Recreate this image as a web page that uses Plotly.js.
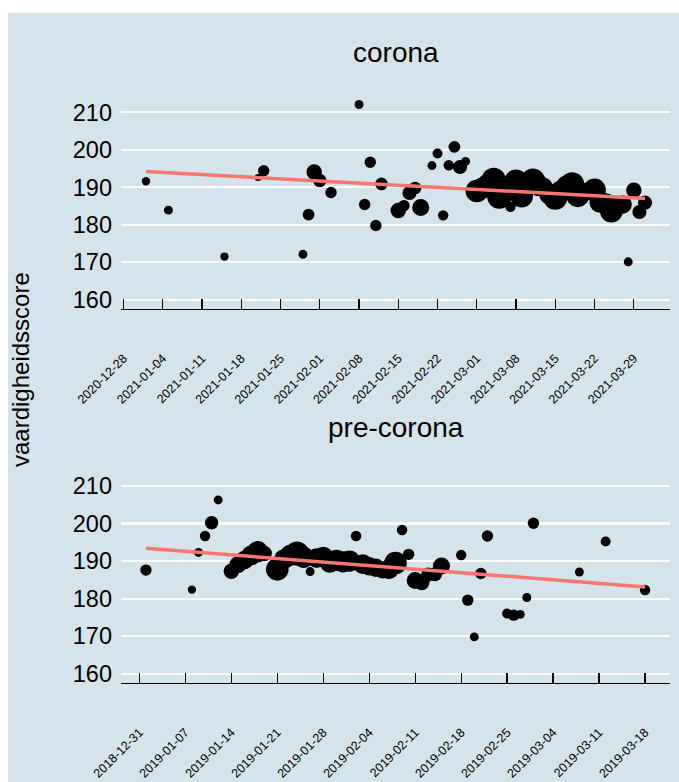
<!DOCTYPE html>
<html>
<head>
<meta charset="utf-8">
<script src="https://cdn.plot.ly/plotly-3.0.1.min.js"></script>
<style>
  html, body { margin: 0; padding: 0; background: #ffffff; }
  #chart { position: absolute; left: 8px; top: 13px; width: 671px; height: 769px; }
</style>
</head>
<body>
<div id="chart"></div>
<script>
// ---- corona (2021) ----
const coronaDates = ['2021-01-01','2021-01-05','2021-01-15','2021-01-21','2021-01-22','2021-01-29','2021-01-30','2021-01-31','2021-02-01','2021-02-03','2021-02-08','2021-02-09','2021-02-10','2021-02-11','2021-02-12','2021-02-15','2021-02-16','2021-02-17','2021-02-18','2021-02-19','2021-02-21','2021-02-22','2021-02-23','2021-02-24','2021-02-25','2021-02-26','2021-02-27','2021-03-01','2021-03-02','2021-03-03','2021-03-04','2021-03-05','2021-03-06','2021-03-07','2021-03-08','2021-03-09','2021-03-10','2021-03-11','2021-03-12','2021-03-13','2021-03-14','2021-03-15','2021-03-16','2021-03-17','2021-03-18','2021-03-19','2021-03-20','2021-03-21','2021-03-22','2021-03-23','2021-03-24','2021-03-25','2021-03-26','2021-03-27','2021-03-28','2021-03-29','2021-03-30','2021-03-31'];
const coronaScores = [191.6,183.9,171.5,192.6,194.4,172.1,182.7,194.1,191.8,188.6,212.1,185.4,196.7,179.8,190.9,183.8,185.1,188.5,189.8,184.6,195.8,199.0,182.5,195.9,200.8,195.4,196.9,189.0,189.8,190.8,192.0,187.5,190.0,184.8,191.5,187.6,190.5,191.8,190.5,190.2,188.2,187.2,189.0,190.3,190.8,187.7,188.6,189.0,189.3,186.0,185.6,183.6,185.0,185.4,170.1,189.2,183.4,185.9];
const coronaCounts = [7,8,7,5,13,8,14,24,18,13,8,13,13,13,16,24,13,20,16,29,8,10,11,11,14,20,8,51,45,45,58,58,29,11,58,51,45,58,45,29,45,58,45,45,58,51,34,34,51,45,45,51,34,34,8,24,20,20];
const coronaTrendDates = ['2021-01-01','2021-03-31'];
const coronaTrendScores = [194.2,187.0];

// ---- pre-corona (2019) ----
const preDates = ['2019-01-01','2019-01-08','2019-01-09','2019-01-10','2019-01-11','2019-01-12','2019-01-14','2019-01-15','2019-01-16','2019-01-17','2019-01-18','2019-01-19','2019-01-21','2019-01-22','2019-01-23','2019-01-24','2019-01-25','2019-01-26','2019-01-27','2019-01-28','2019-01-29','2019-01-30','2019-01-31','2019-02-01','2019-02-02','2019-02-03','2019-02-04','2019-02-05','2019-02-06','2019-02-07','2019-02-08','2019-02-09','2019-02-10','2019-02-11','2019-02-12','2019-02-13','2019-02-14','2019-02-15','2019-02-18','2019-02-19','2019-02-20','2019-02-21','2019-02-22','2019-02-25','2019-02-26','2019-02-27','2019-02-28','2019-03-01','2019-03-08','2019-03-12','2019-03-18'];
const preScores = [187.6,182.4,192.3,196.7,200.2,206.3,187.3,189.0,190.3,191.5,192.5,192.0,187.8,190.5,191.5,192.0,191.0,187.2,190.8,191.2,189.5,190.2,189.8,190.0,196.7,189.2,188.6,188.2,187.6,187.8,189.5,198.3,191.8,184.8,184.3,186.4,186.5,188.7,191.6,179.6,169.8,186.7,196.7,176.0,175.6,175.8,180.3,200.1,187.1,195.2,182.3];
const preCounts = [13,7,8,11,18,8,24,29,34,39,45,24,51,39,45,58,45,8,39,39,39,45,45,45,11,39,34,34,29,39,51,11,13,29,24,20,20,29,11,13,8,13,13,10,13,8,8,13,8,10,11];
const preTrendDates = ['2019-01-01','2019-03-18'];
const preTrendScores = [193.4,183.1];

// labels
const panelTitles = ['corona', 'pre-corona'];
const yTitle = 'vaardigheidsscore';
const yTicks = [160,170,180,190,200,210];

const BG = '#d5e4eb';
const FONT = 'Liberation Sans, Arial, Helvetica, sans-serif';
const WEEK = 7 * 24 * 3600 * 1000;

const pointStyle = {color: '#000000', opacity: 1, sizemode: 'area', sizeref: 0.2, line: {width: 0}};
const trendStyle = {color: '#F8766D', width: 3.5};

const traces = [
  {x: coronaDates, y: coronaScores, type: 'scatter', mode: 'markers', xaxis: 'x', yaxis: 'y', cliponaxis: false,
   marker: Object.assign({size: coronaCounts}, pointStyle), hoverinfo: 'x+y'},
  {x: coronaTrendDates, y: coronaTrendScores, type: 'scatter', mode: 'lines', xaxis: 'x', yaxis: 'y',
   line: trendStyle, hoverinfo: 'skip'},
  {x: preDates, y: preScores, type: 'scatter', mode: 'markers', xaxis: 'x2', yaxis: 'y2', cliponaxis: false,
   marker: Object.assign({size: preCounts}, pointStyle), hoverinfo: 'x+y'},
  {x: preTrendDates, y: preTrendScores, type: 'scatter', mode: 'lines', xaxis: 'x2', yaxis: 'y2',
   line: trendStyle, hoverinfo: 'skip'}
];

function xAxis(range, tick0, anchor) {
  return {
    type: 'date', range: range, anchor: anchor, domain: [0, 1],
    tick0: tick0, dtick: WEEK, tickformat: '%Y-%m-%d', tickangle: -45,
    tickfont: {family: FONT, size: 12.5, color: '#000000'},
    ticks: 'inside', ticklen: 10, tickwidth: 1.3, tickcolor: '#000000',
    showline: true, linecolor: '#000000', linewidth: 1.2,
    showgrid: false, zeroline: false, ticklabelstandoff: 36, fixedrange: true
  };
}
function yAxis(domain, anchor) {
  return {
    range: [157.5, 212.5], domain: domain, anchor: anchor,
    tickvals: yTicks, ticktext: yTicks.map(String),
    tickfont: {family: FONT, size: 23.5, color: '#000000'},
    ticks: '', showline: false, zeroline: false,
    showgrid: true, gridcolor: '#ffffff', gridwidth: 2.2,
    ticklabelstandoff: 8, fixedrange: true
  };
}

const layout = {
  width: 671, height: 769,
  margin: {l: 113, r: 9, t: 90, b: 99},
  paper_bgcolor: BG, plot_bgcolor: BG,
  showlegend: false,
  font: {family: FONT, color: '#000000'},
  xaxis: xAxis(['2020-12-27 13:12', '2021-04-04 10:48'], '2020-12-28', 'y'),
  yaxis: yAxis([0.6448, 1], 'x'),
  xaxis2: xAxis(['2018-12-28 04:48', '2019-03-21 19:12'], '2018-12-31', 'y2'),
  yaxis2: yAxis([0, 0.3557], 'x2'),
  annotations: [
    {text: panelTitles[0], xref: 'paper', yref: 'paper', x: 0.5, y: 1.0879, xanchor: 'center', yanchor: 'middle',
     showarrow: false, font: {family: FONT, size: 28, color: '#000000'}},
    {text: panelTitles[1], xref: 'paper', yref: 'paper', x: 0.5, y: 0.4397, xanchor: 'center', yanchor: 'middle',
     showarrow: false, font: {family: FONT, size: 28, color: '#000000'}},
    {text: yTitle, xref: 'paper', yref: 'paper', x: -0.1821, y: 0.5397, xanchor: 'center', yanchor: 'middle',
     textangle: -90, showarrow: false, font: {family: FONT, size: 24, color: '#000000'}}
  ]
};

Plotly.newPlot('chart', traces, layout, {displayModeBar: false, staticPlot: true});
</script>
</body>
</html>
